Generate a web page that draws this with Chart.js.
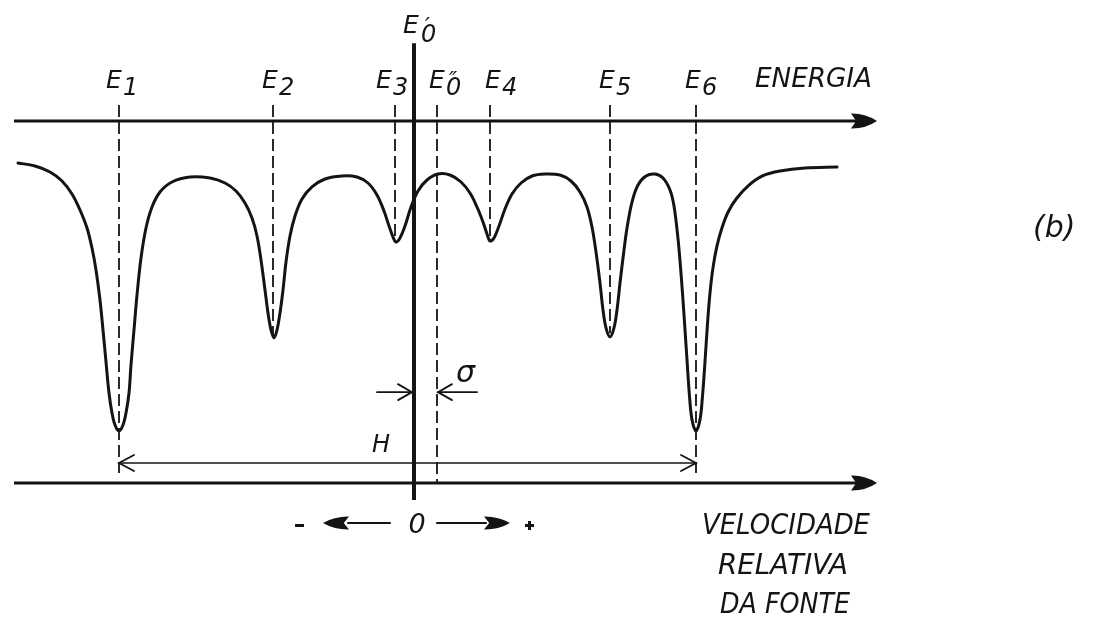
<!DOCTYPE html>
<html>
<head>
<meta charset="utf-8">
<script src="https://cdn.jsdelivr.net/npm/chart.js@4/dist/chart.umd.min.js"></script>
<style>
  html, body { margin: 0; padding: 0; background: #fff; overflow: hidden; }
  canvas { display: block; }
</style>
</head>
<body>
<canvas id="c" width="1098" height="619"></canvas>
<script>
// Mössbauer absorption sextet: relative source velocity (mm/s) vs. transmission (%)
const velocity = [
  -7.92, -7.58, -7.28, -7.04, -6.84, -6.68, -6.54, -6.44, -6.36, -6.28, -6.22, -6.16, -6.10, -6.04,
  -5.98, -5.90, -5.82, -5.76, -5.70, -5.66, -5.60, -5.54, -5.46, -5.36, -5.24, -5.08, -4.84, -4.48,
  -4.08, -3.78, -3.56, -3.38, -3.24, -3.14, -3.06, -2.98, -2.92, -2.86, -2.80, -2.74, -2.68, -2.62,
  -2.56, -2.48, -2.38, -2.24, -2.04, -1.78, -1.44, -1.14, -0.92, -0.74, -0.60, -0.50, -0.42, -0.36,
  -0.28, -0.18, -0.06, 0.08, 0.26, 0.48, 0.72, 0.94, 1.12, 1.26, 1.38, 1.46, 1.52, 1.60,
  1.70, 1.82, 1.96, 2.14, 2.36, 2.62, 2.92, 3.14, 3.32, 3.46, 3.56, 3.64, 3.72, 3.78,
  3.84, 3.92, 4.00, 4.06, 4.12, 4.18, 4.26, 4.36, 4.48,
  4.64, 4.82, 4.98, 5.12, 5.20, 5.28, 5.34, 5.40, 5.46, 5.51, 5.56, 5.64, 5.72, 5.77,
  5.82, 5.87, 5.92, 5.98, 6.06, 6.16, 6.28, 6.45, 6.70, 6.98, 7.32, 7.82, 8.46
];
const transmission = [
  88.40, 87.57, 85.91, 83.43, 79.83, 75.41, 70.44, 64.92, 58.84, 50.55, 42.27, 33.43, 24.86, 19.34,
  16.02, 14.36, 16.02, 19.34, 24.86, 32.60, 42.27, 51.93, 62.15, 70.44, 76.24, 80.39, 83.15, 84.53,
  84.25, 82.87, 80.66, 77.35, 73.20, 68.23, 61.60, 53.31, 46.96, 42.27, 40.06, 42.27, 46.96, 53.31,
  61.05, 68.23, 73.76, 78.45, 81.77, 83.98, 84.81, 84.53, 82.87, 79.56, 75.14, 70.99, 67.96, 66.57,
  67.68, 70.99, 76.24, 80.66, 83.70, 85.36, 85.08, 83.15, 80.11, 76.24, 72.10, 68.78, 66.85, 67.68,
  70.99, 75.69, 79.83, 82.87, 84.81, 85.36, 85.08, 83.43, 80.39, 76.24, 70.72, 63.81, 55.25, 47.79,
  42.82, 40.33, 42.82, 47.79, 55.25, 62.15, 70.44, 77.62, 82.32,
  84.81, 85.36, 84.25, 80.94, 76.50, 67.50, 58.00, 46.50, 34.00, 24.00, 17.50, 14.36, 17.50, 24.00,
  33.50, 44.00, 52.50, 59.50, 65.50, 70.50, 74.80, 78.60, 82.30, 84.90, 86.19, 87.02, 87.29
];

// Line positions E1..E6 and the lower end of each marker
const lineNames = ['1', '2', '3', '4', '5', '6'];
const lineVelocity = [-5.90, -2.82, -0.38, 1.52, 3.92, 5.64];
const lineMarkerEnd = [2.76, 40.9, 66.9, 66.9, 41.4, 2.76];
const centroidVelocity = 0.46;   // E0''
const sourceVelocity = 0;        // E0'

// Reference levels (transmission units)
const energyAxisLevel = 100;
const velocityAxisLevel = 0;
const axisStart = -8.0, axisEnd = 9.26;
const markerTop = 104.4;
const sourceLineTop = 121.5, sourceLineBottom = -4.7;
const splittingLevel = 5.52;     // H
const shiftLevel = 25.1;         // σ
const directionLevel = -11.05;   // - ← 0 → +

const ink = '#141414';

function seg(x0, y0, x1, y1, width, dash) {
  return {
    data: [{ x: x0, y: y0 }, { x: x1, y: y1 }],
    borderColor: ink, borderWidth: width, borderDash: dash || [],
    pointRadius: 0, fill: false, tension: 0, borderCapStyle: 'butt'
  };
}

const datasets = [];
// energy axis and velocity axis
datasets.push(seg(axisStart, energyAxisLevel, axisEnd - 0.3, energyAxisLevel, 3));
datasets.push(seg(axisStart, velocityAxisLevel, axisEnd - 0.3, velocityAxisLevel, 3));
// dashed markers of the six lines
lineVelocity.forEach((v, i) => datasets.push(seg(v, markerTop, v, lineMarkerEnd[i], 1.8, [12, 5])));
// centroid of the sextet
datasets.push(seg(centroidVelocity, markerTop, centroidVelocity, velocityAxisLevel, 1.8, [12, 5]));
// hyperfine splitting H
datasets.push(seg(lineVelocity[0], splittingLevel, lineVelocity[5], splittingLevel, 1.6));
// source line E0'
datasets.push(seg(sourceVelocity, sourceLineTop, sourceVelocity, sourceLineBottom, 4));
// the spectrum itself
datasets.push({
  data: velocity.map((v, i) => ({ x: v, y: transmission[i] })),
  borderColor: ink, borderWidth: 3, pointRadius: 0, fill: false,
  tension: 0.35, borderJoinStyle: 'round', borderCapStyle: 'round'
});

function dart(ctx, tx, ty, dir, len, half) {
  ctx.beginPath();
  ctx.moveTo(tx, ty);
  ctx.quadraticCurveTo(tx - dir * len * 0.45, ty - half * 1.05, tx - dir * len, ty - half);
  ctx.lineTo(tx - dir * len * 0.8, ty);
  ctx.lineTo(tx - dir * len, ty + half);
  ctx.quadraticCurveTo(tx - dir * len * 0.45, ty + half * 1.05, tx, ty);
  ctx.closePath();
  ctx.fill();
}

function openHead(ctx, tx, ty, dir, len, half, width) {
  ctx.beginPath();
  ctx.lineWidth = width;
  ctx.moveTo(tx - dir * len, ty - half);
  ctx.lineTo(tx, ty);
  ctx.lineTo(tx - dir * len, ty + half);
  ctx.stroke();
}

function line(ctx, x0, y0, x1, y1, width) {
  ctx.beginPath();
  ctx.lineWidth = width;
  ctx.moveTo(x0, y0);
  ctx.lineTo(x1, y1);
  ctx.stroke();
}

function text(ctx, str, x, base, size, weight) {
  ctx.font = `italic ${weight || 'normal'} ${size}px "DejaVu Sans"`;
  ctx.fillText(str, x, base);
}

function fitText(ctx, str, x0, x1, base, size) {
  ctx.font = `italic ${size}px "DejaVu Sans"`;
  const w = ctx.measureText(str).width;
  ctx.save();
  ctx.translate(x0, base);
  ctx.scale((x1 - x0) / w, 1);
  ctx.fillText(str, 0, 0);
  ctx.restore();
}

// label offsets (px) of each "E" relative to its marker
const labelShift = [-13, -11, -19, -5, -11, -11];

const decorations = {
  id: 'decorations',
  afterDatasetsDraw(chart) {
    const ctx = chart.ctx;
    const X = v => chart.scales.x.getPixelForValue(v);
    const Y = v => chart.scales.y.getPixelForValue(v);
    ctx.save();
    ctx.fillStyle = ink;
    ctx.strokeStyle = ink;
    ctx.lineCap = 'round';
    ctx.textBaseline = 'alphabetic';

    // axis arrowheads
    dart(ctx, X(axisEnd), Y(energyAxisLevel), 1, 26, 7.5);
    dart(ctx, X(axisEnd), Y(velocityAxisLevel), 1, 26, 7.5);

    // splitting H: open heads on both ends
    openHead(ctx, X(lineVelocity[0]), Y(splittingLevel), -1, 15, 8, 1.8);
    openHead(ctx, X(lineVelocity[5]), Y(splittingLevel), 1, 15, 8, 1.8);

    // isomer shift σ: arrows pointing at E0' and E0''
    const ys = Y(shiftLevel);
    line(ctx, X(sourceVelocity) - 37, ys, X(sourceVelocity) - 2, ys, 1.8);
    openHead(ctx, X(sourceVelocity) - 2, ys, 1, 14, 8, 1.8);
    line(ctx, X(centroidVelocity) + 1, ys, X(centroidVelocity) + 40, ys, 1.8);
    openHead(ctx, X(centroidVelocity) + 1, ys, -1, 14, 8, 1.8);

    // direction of source velocity under the axis
    const yd = Y(directionLevel), x0 = X(sourceVelocity);
    line(ctx, x0 - 66, yd, x0 - 24, yd, 2.2);
    dart(ctx, x0 - 91, yd, -1, 26, 6.5);
    line(ctx, x0 + 23, yd, x0 + 72, yd, 2.2);
    dart(ctx, x0 + 96, yd, 1, 26, 6.5);
    ctx.textAlign = 'center';
    text(ctx, '0', x0 + 3, 533, 27);
    ctx.fillRect(x0 - 119, yd + 1, 9, 3);
    ctx.fillRect(x0 + 111, yd + 1, 9, 3);
    ctx.fillRect(x0 + 114, yd - 2, 3, 9);
    ctx.textAlign = 'left';

    // line labels E1..E6
    lineVelocity.forEach((v, i) => {
      const L = X(v) + labelShift[i];
      text(ctx, 'E', L, 88, 25);
      text(ctx, lineNames[i], L + 17, 95, 24);
    });
    // E0''
    {
      const L = X(centroidVelocity) - 8;
      text(ctx, 'E', L, 88, 25);
      text(ctx, '0', L + 17, 95, 24);
      text(ctx, '\u2033', L + 20, 87, 22);
    }
    // E0'
    {
      const L = X(sourceVelocity) - 11;
      text(ctx, 'E', L, 33, 25);
      text(ctx, '0', L + 18, 42, 24);
      text(ctx, '\u2032', L + 22, 33, 22);
    }

    // H and σ
    text(ctx, 'H', X(sourceVelocity) - 42, 452, 24);
    text(ctx, '\u03C3', X(centroidVelocity) + 19, 382, 30);

    // axis titles
    fitText(ctx, 'ENERGIA', 755, 872, 87, 27);
    fitText(ctx, 'VELOCIDADE', 702, 870, 534, 29);
    fitText(ctx, 'RELATIVA', 718, 848, 574, 29);
    fitText(ctx, 'DA FONTE', 720, 850, 613, 29);

    // panel tag
    text(ctx, '(b)', 1033, 237, 30);
    ctx.restore();
  }
};

new Chart(document.getElementById('c'), {
  type: 'line',
  data: { datasets },
  options: {
    responsive: false,
    devicePixelRatio: 1,
    animation: false,
    events: [],
    layout: { padding: 0 },
    plugins: { legend: { display: false }, tooltip: { enabled: false } },
    scales: {
      x: { type: 'linear', display: false, min: -8.28, max: 13.68 },
      y: { type: 'linear', display: false, min: -37.569, max: 133.425 }
    }
  },
  plugins: [decorations]
});
</script>
</body>
</html>
